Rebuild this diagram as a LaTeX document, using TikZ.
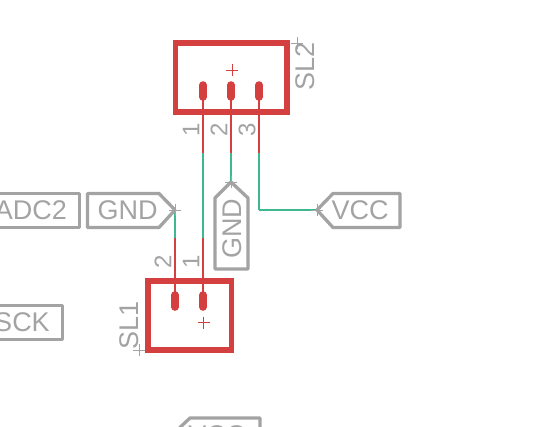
\documentclass[tikz,border=0pt]{standalone}
\usepackage{fontspec}
\setmainfont{Liberation Sans}
\definecolor{netgreen}{HTML}{3FB88F}
\definecolor{symred}{HTML}{D43F3F}
\definecolor{labgray}{HTML}{A3A3A3}
\tikzset{
	wire/.style={line width=2.1pt, netgreen},
	pin/.style={line width=2.1pt, symred},
	pad/.style={line width=7.6pt, symred, line cap=round},
	body/.style={line width=5.2pt, symred, line join=miter},
	tag/.style={line width=3.3pt, labgray, line join=round},
	bigtext/.style={text=labgray, inner sep=0pt, font=\fontsize{27}{27}\selectfont},
	pintext/.style={text=labgray, inner sep=0pt, rotate=90, font=\fontsize{24}{24}\selectfont},
}
\begin{document}
\begin{tikzpicture}[x=1pt,y=-1pt]

\clip (0,0) rectangle (549,426);

\coordinate (sltwo_nw) at (175.5,43);
\coordinate (sltwo_se) at (287,112);
\coordinate (slone_nw) at (148,281);
\coordinate (slone_se) at (231.5,350);

% pads
\coordinate (a1) at (203,85);
\coordinate (a2) at (231,85);
\coordinate (a3) at (259,85);
\coordinate (a1_) at (203,97);
\coordinate (a2_) at (231,97);
\coordinate (a3_) at (259,97);
\coordinate (b1) at (203,295);
\coordinate (b2) at (175,295);
\coordinate (b1_) at (203,307);
\coordinate (b2_) at (175,307);

% red to green
\coordinate (a1m) at (203,153);
\coordinate (a2m) at (231,153);
\coordinate (a3m) at (259,153);
\coordinate (b1m) at (203,238);
\coordinate (b2m) at (175,238);

% tag tips
\coordinate (gndh) at (175,210);
\coordinate (gndv) at (231,182);
\coordinate (vcc) at (317,210);
\coordinate (corner) at (259,210);

\foreach \from/\to in {a1m/b1m, a2m/gndv, a3m/corner, corner/vcc, gndh/b2m}
	\draw[wire] (\from) -- (\to);

\foreach \from/\to in {a1/a1m, a2/a2m, a3/a3m, b1m/b1, b2m/b2}
	\draw[pin] (\from) -- (\to);

\foreach \from/\to in {a1/a1_, a2/a2_, a3/a3_, b1/b1_, b2/b2_}
	\draw[pad] (\from) -- (\to);

\draw[body] (sltwo_nw) rectangle (sltwo_se);
\draw[body] (slone_nw) rectangle (slone_se);

\draw[tag] (gndh) -- (159,193.5) -- (87.5,193.5) -- (87.5,227.5) -- (159,227.5) -- cycle;
\draw[tag] (gndv) -- (248,198) -- (248,269) -- (215,269) -- (215,198) -- cycle;
\draw[tag] (vcc) -- (333,193.5) -- (400,193.5) -- (400,227.5) -- (333,227.5) -- cycle;
\draw[tag] (-10,193.5) -- (79.5,193.5) -- (79.5,227.5) -- (-10,227.5);
\draw[tag] (-10,305.5) -- (62.5,305.5) -- (62.5,339.5) -- (-10,339.5);
\draw[tag] (173,434) -- (190,418) -- (260,418) -- (260,440);

\node[bigtext] (gndhtext) at (127.5,210) {GND};
\node[bigtext, rotate=90] (gndvtext) at (232,228.5) {GND};
\node[bigtext] (vcctext) at (360,210) {VCC};
\node[bigtext] (adctext) at (31,210) {ADC2};
\node[bigtext] (scktext) at (22,322) {SCK};
\node[bigtext] (vcctwotext) at (217,435) {VCC};
\node[bigtext, rotate=90] (sltwotext) at (305.5,66) {SL2};
\node[bigtext, rotate=90] (slonetext) at (129,325.5) {SL1};

\node[pintext] (a1text) at (191,130) {1};
\node[pintext] (a2text) at (219,130) {2};
\node[pintext] (a3text) at (247,130) {3};
\node[pintext] (b2text) at (163,262) {2};
\node[pintext] (b1text) at (191,262) {1};

\foreach \x/\y in {232/70, 203.5/322.5}
	\draw[symred, line width=1pt] (\x-6,\y) -- (\x+6,\y) (\x,\y-6) -- (\x,\y+6);

\foreach \x/\y in {297/43, 139/350, 175/210, 231/182, 317/210}
	\draw[labgray, line width=1pt] (\x-6,\y) -- (\x+6,\y) (\x,\y-6) -- (\x,\y+6);

\end{tikzpicture}
\end{document}
